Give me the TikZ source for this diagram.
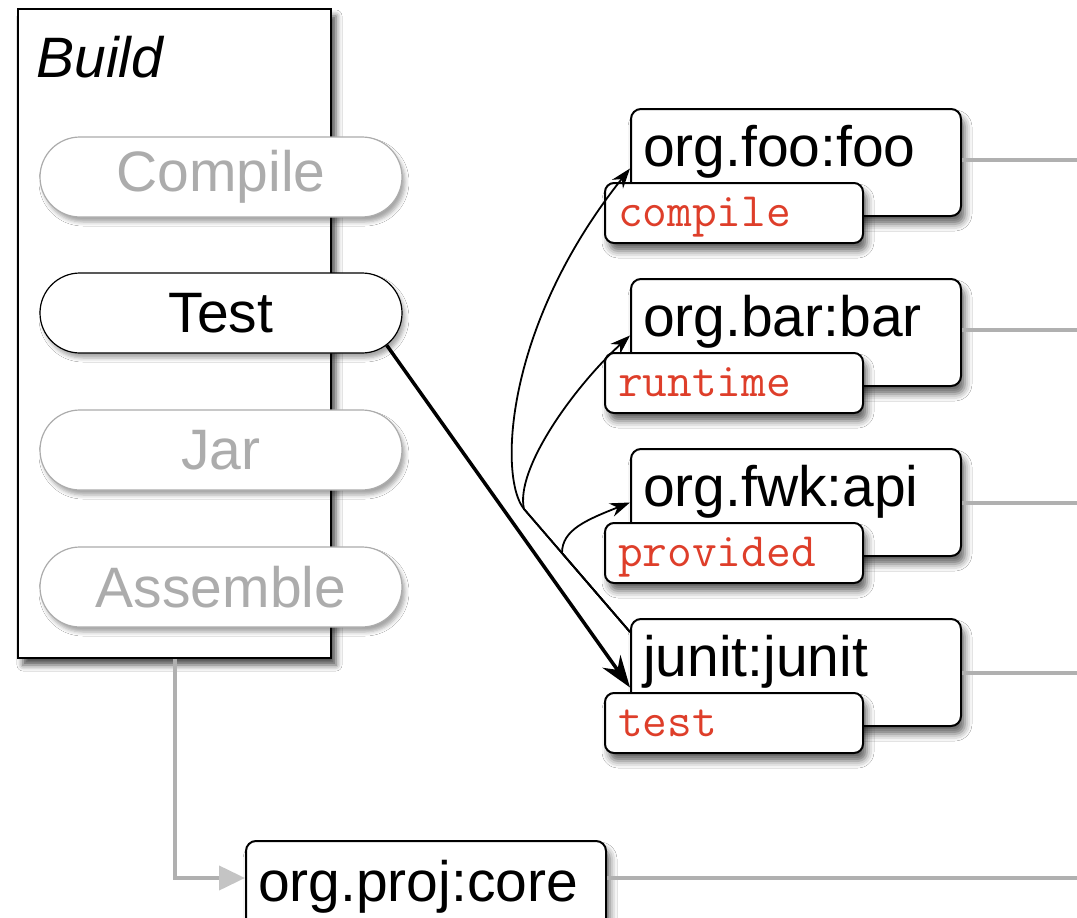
\documentclass[tikz,border=0pt]{standalone}
\usepackage{fontspec}
\setmainfont{Liberation Sans}
\usetikzlibrary{shapes.misc,arrows.meta,shadows.blur}
\definecolor{deplabel}{RGB}{222,62,42}
\definecolor{linkgray}{RGB}{176,176,176}
\definecolor{idlegray}{RGB}{172,172,172}
\definecolor{headgray}{RGB}{196,196,196}

\begin{document}
\begin{tikzpicture}[x=1pt,y=-1pt,
  bigfont/.style={font=\fontsize{57}{60}\selectfont},
  softshadow/.style={blur shadow={shadow xshift=4pt, shadow yshift=-8pt, shadow blur radius=7pt, shadow opacity=60}},
  phasebox/.style={draw=black, line width=2pt, fill=white, rectangle, anchor=north west,
    inner sep=0pt, minimum width=313pt, minimum height=649pt,
    blur shadow={shadow xshift=5pt, shadow yshift=-7pt, shadow blur radius=6pt, shadow opacity=70}},
  phase/.style={rounded rectangle, draw=idlegray, line width=1.2pt, fill=white,
    minimum width=362pt, minimum height=80pt, inner sep=0pt, bigfont, text=idlegray,
    blur shadow={shadow xshift=3pt, shadow yshift=-5pt, shadow blur radius=4pt, shadow opacity=35}},
  current/.style={draw=black, text=black},
  artifact/.style={draw=black, line width=2pt, fill=white, rounded corners=10pt, anchor=north west,
    inner xsep=12pt, inner ysep=0pt, text width=306pt, text height=57pt, text depth=50pt,
    align=left, bigfont, softshadow},
  scopetag/.style={draw=black, line width=2pt, fill=white, rounded corners=9pt, anchor=north west,
    inner xsep=13pt, inner ysep=0pt, text width=232pt, text height=43pt, text depth=17pt,
    align=left, font=\ttfamily\fontsize{48}{50}\selectfont, text=deplabel, softshadow},
  dep/.style={line width=1.8pt, -{Stealth[length=20pt,width=14pt]}},
  run/.style={line width=3.5pt, -{Stealth[length=32pt,width=22pt]}},
  feed/.style={draw=linkgray, line width=4pt},
  feedhead/.style={linkgray, line width=4pt, -{Triangle[length=26pt,width=24pt,color=headgray]}}
]
\useasboundingbox (0,0) rectangle (1077,918);
\clip (0,0) rectangle (1077,918);
\fill[white] (0,0) rectangle (1077,918);
\coordinate (edge) at (1077,0);

% build lifecycle
\node[phasebox] (build) at (17,8) {};
\node[anchor=base west, font=\fontsize{57}{60}\selectfont\itshape] (title) at (33,77) {Build};
\node[phase] (compile) at (221,177) {Compile};
\node[phase, current] (test) at (221,313) {Test};
\node[phase] (jar) at (221,450) {Jar};
\node[phase] (assemble) at (221,587) {Assemble};

% dependencies and their scopes
\node[artifact] (foo) at (630,108) {org.foo:foo};
\node[scopetag] (fooscope) at (604,182) {compile};
\node[artifact] (bar) at (630,278) {org.bar:bar};
\node[scopetag] (barscope) at (604,352) {runtime};
\node[artifact] (api) at (630,448) {org.fwk:api};
\node[scopetag] (apiscope) at (604,522) {provided};
\node[artifact] (junit) at (630,618) {junit:junit};
\node[scopetag] (junitscope) at (604,692) {test};

% project artifact
\node[artifact, text width=336pt, text height=60pt, text depth=52pt] (core) at (245,840) {org.proj:core};

% outgoing links
\draw[feed] ([yshift=3pt]foo.east) -- ([yshift=3pt]foo.east -| edge);
\draw[feed] ([yshift=3pt]bar.east) -- ([yshift=3pt]bar.east -| edge);
\draw[feed] (api.east) -- (api.east -| edge);
\draw[feed] (junit.east) -- (junit.east -| edge);
\draw[feed] ([yshift=19pt]core.east) -- ([yshift=19pt]core.east -| edge);
\draw[feedhead] (build.south) |- ([yshift=19pt]core.west);

% test classpath
\draw[run] (test.-11) -- ([yshift=-15pt]junit.west);
\draw[dep] ([yshift=-14pt]junit.north west) -- (524,509)
  .. controls (499,479) and (503,328) .. ([yshift=-6pt]foo.west);
\draw[dep] ([yshift=-14pt]junit.north west) -- (524,509)
  .. controls (515,470) and (572,389) .. ([yshift=-3pt]bar.west);
\draw[dep] ([yshift=-14pt]junit.north west) -- (562,553)
  .. controls (562,530) and (586,520) .. (api.west);
\end{tikzpicture}
\end{document}
